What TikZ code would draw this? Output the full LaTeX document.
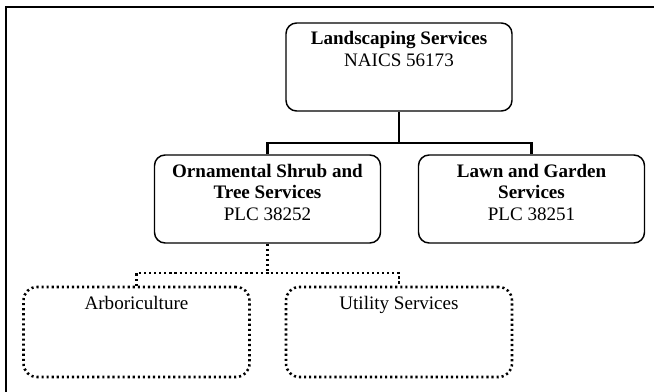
\documentclass[tikz,border=0pt]{standalone}
\usepackage{fontspec}
\setmainfont{Liberation Serif}
\usetikzlibrary{positioning}

\begin{document}
\begin{tikzpicture}[x=0.75pt,y=-0.75pt,
  box/.style={draw, rounded corners=8pt, line width=1.1pt, minimum width=169.5pt, minimum height=66pt},
  dotbox/.style={box, line width=1.9pt, dash pattern=on 1.6pt off 2.2pt, rounded corners=10pt, minimum height=67.5pt},
  lbl/.style={align=center, font=\fontsize{14.3}{16.2}\selectfont, inner sep=0pt},
  tree/.style={line width=2.2pt},
  dottree/.style={line width=1.9pt, dash pattern=on 1.6pt off 2.2pt}]
\useasboundingbox (0,0) rectangle (654,392);
\draw[line width=1.1pt] (6,392) -- (6,7) -- (654,7);

\node[box] (land) at (399,67) {};
\node[box] (orn) at (267.5,199) {};
\node[box] (lawn) at (531.5,199) {};
\node[dotbox] (arb) at (136.5,332) {};
\node[dotbox] (util) at (399,332) {};

\node[lbl, below=6.5pt of land.north] (landt) {\textbf{Landscaping Services}\\NAICS 56173};
\node[lbl, below=7pt of orn.north] (ornt) {\textbf{Ornamental Shrub and}\\\textbf{Tree Services}\\PLC 38252};
\node[lbl, below=7pt of lawn.north] (lawnt) {\textbf{Lawn and Garden}\\\textbf{Services}\\PLC 38251};
\node[lbl, below=7.5pt of arb.north] (arbt) {Arboriculture};
\node[lbl, below=7.5pt of util.north] (utilt) {Utility Services};

\coordinate (split) at (399,143);
\coordinate (subsplit) at (267.5,273);
\draw[tree] (land.south) -- (split);
\draw[tree] (orn.north) |- (split) -| (lawn.north);
\draw[dottree] (orn.south) -- (subsplit);
\draw[dottree] (arb.north) |- (subsplit) -| (util.north);
\end{tikzpicture}
\end{document}
